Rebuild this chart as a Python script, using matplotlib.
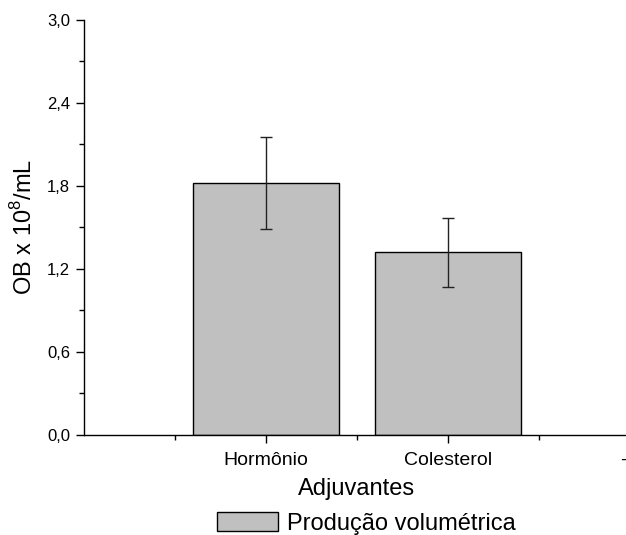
import matplotlib
matplotlib.use("Agg")
import matplotlib.pyplot as plt
from matplotlib.ticker import FixedLocator, FuncFormatter, MultipleLocator

categories = ["Hormônio", "Colesterol"]
values = [1.82, 1.32]
errors = [0.33, 0.25]
extra_tick_label = "- -"
series_name = "Produção volumétrica"

plt.rcParams['font.family'] = ['Liberation Sans', 'DejaVu Sans']
plt.rcParams['mathtext.fontset'] = 'custom'
plt.rcParams['mathtext.rm'] = 'Liberation Sans'

fig = plt.figure(figsize=(6.26, 5.35), dpi=100)
ax = fig.add_axes([0.134, 0.187, 0.872, 0.776])

pos = list(range(1, len(categories) + 1))
ax.bar(pos, values, width=0.8, color="#C0C0C0", edgecolor="black",
       linewidth=1.0, label=series_name, zorder=2)
ax.errorbar(pos, values, yerr=errors, fmt="none", ecolor="#222222",
            elinewidth=1.0, capsize=4, capthick=1.0, zorder=3)

ax.set_xlim(0, 3)
ax.set_ylim(0, 3.0)
ax.xaxis.set_major_locator(FixedLocator([1, 2, 3]))
ax.set_xticklabels(categories + [extra_tick_label])
ax.xaxis.set_minor_locator(FixedLocator([0.5, 1.5, 2.5]))
ax.yaxis.set_major_locator(MultipleLocator(0.6))
ax.yaxis.set_minor_locator(MultipleLocator(0.3))
ax.yaxis.set_major_formatter(FuncFormatter(lambda v, p: f"{v:.1f}".replace(".", ",")))

for s in ["top", "right"]:
    ax.spines[s].set_visible(False)
ax.spines["left"].set_linewidth(1.0)
ax.spines["bottom"].set_linewidth(1.0)

ax.tick_params(axis="both", which="major", direction="out", length=6, width=1)
ax.tick_params(axis="both", which="minor", direction="out", length=3.5, width=1)
ax.tick_params(axis="y", which="major", labelsize=12, pad=4)
ax.tick_params(axis="x", which="major", labelsize=14, pad=6)

ax.set_xlabel("Adjuvantes", fontsize=17, labelpad=7)
ax.set_ylabel("OB x 10$^{8}$/mL", fontsize=17, labelpad=7)

fig.legend(loc="lower center", bbox_to_anchor=(0.585, -0.026), frameon=False,
           fontsize=17, handlelength=2.6, handleheight=0.85, handletextpad=0.38,
           borderpad=0.1)

fig.savefig("out.png", dpi=100)
